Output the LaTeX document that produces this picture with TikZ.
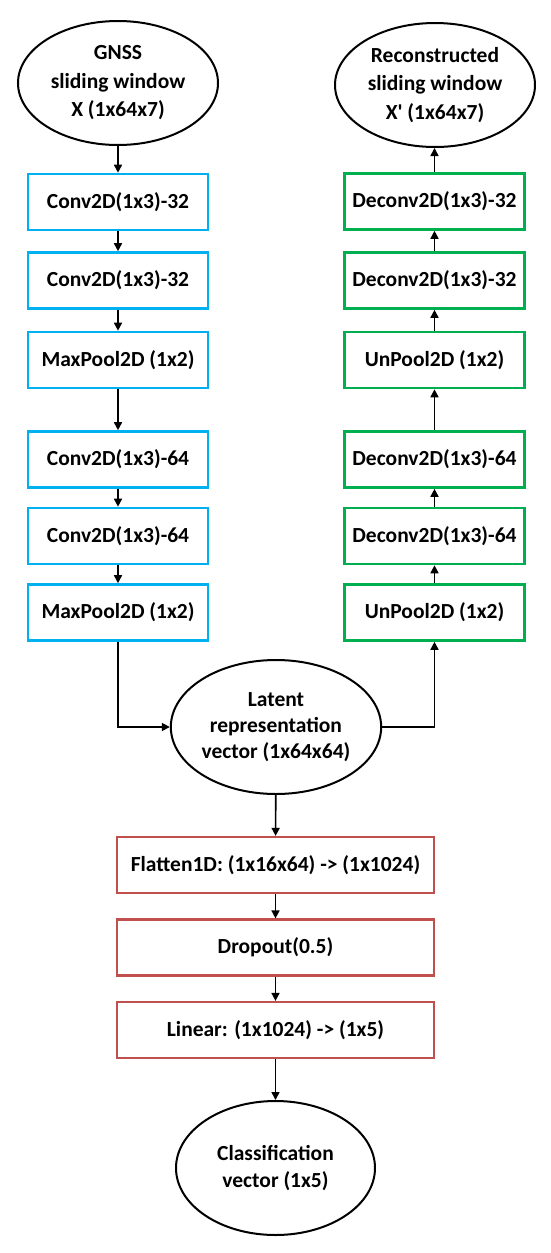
\documentclass[tikz,border=0pt]{standalone}
\usepackage{fontspec}
\setmainfont{Carlito}
\usetikzlibrary{shapes.geometric,arrows.meta}
\definecolor{cblue}{RGB}{0,176,240}
\definecolor{cgreen}{RGB}{0,176,80}
\definecolor{cred}{RGB}{192,80,77}
\begin{document}
\begin{tikzpicture}[x=1pt,y=-1pt,
  every node/.style={font=\fontsize{21.5}{27}\selectfont\bfseries, text=black},
  layerbox/.style={draw, line width=2.6pt, rectangle, minimum width=180pt, minimum height=56pt, inner sep=0pt},
  encbox/.style={layerbox, draw=cblue},
  decbox/.style={layerbox, draw=cgreen},
  clsbox/.style={layerbox, draw=cred, line width=2.2pt, minimum width=317pt},
  blob/.style={draw=black, line width=2pt, ellipse, inner sep=0pt, align=center},
  conn/.style={line width=1.6pt, -{Triangle[length=8pt,width=8pt]}}
]
\useasboundingbox (0,0) rectangle (550,1253);
\fill[white] (0,0) rectangle (550,1253);

% encoder
\node[blob, minimum width=200pt, minimum height=124pt, font=\fontsize{21.5}{28.5}\selectfont\bfseries] (in) at (118,83) {GNSS\\sliding window\\X (1x64x7)};
\node[encbox] (e1) at (118,202) {Conv2D(1x3)-32};
\node[encbox] (e2) at (118,280.5) {Conv2D(1x3)-32};
\node[encbox] (e3) at (118,360) {MaxPool2D (1x2)};
\node[encbox] (e4) at (118,459.5) {Conv2D(1x3)-64};
\node[encbox] (e5) at (118,536) {Conv2D(1x3)-64};
\node[encbox] (e6) at (118,612.5) {MaxPool2D (1x2)};

% decoder
\node[blob, minimum width=200pt, minimum height=124pt, font=\fontsize{21.5}{28.5}\selectfont\bfseries] (out) at (435,85) {Reconstructed\\sliding window\\X\textquotesingle{} (1x64x7)};
\node[decbox] (d1) at (434.5,201.5) {Deconv2D(1x3)-32};
\node[decbox] (d2) at (434.5,280.5) {Deconv2D(1x3)-32};
\node[decbox] (d3) at (434.5,360) {UnPool2D (1x2)};
\node[decbox] (d4) at (434.5,459.5) {Deconv2D(1x3)-64};
\node[decbox] (d5) at (434.5,536) {Deconv2D(1x3)-64};
\node[decbox] (d6) at (434.5,612.5) {UnPool2D (1x2)};

% latent
\node[blob, minimum width=198pt, minimum height=134pt, font=\fontsize{21.5}{26}\selectfont\bfseries] (lat) at (276,727) {Latent\\representation\\vector (1x64x64)};

% classifier
\node[clsbox] (c1) at (275.5,865) {Flatten1D: (1x16x64) -> (1x1024)};
\node[clsbox] (c2) at (275.5,947.5) {Dropout(0.5)};
\node[clsbox] (c3) at (275.5,1030) {Linear: (1x1024) -> (1x5)};
\node[blob, minimum width=199pt, minimum height=134pt] (cls) at (275.5,1168) {Classification\\vector (1x5)};

\coordinate (jl) at (118,727);
\coordinate (jr) at (434.5,727);

\draw[conn] (in) -- (e1);
\draw[conn] (e1) -- (e2);
\draw[conn] (e2) -- (e3);
\draw[conn] (e3) -- (e4);
\draw[conn] (e4) -- (e5);
\draw[conn] (e5) -- (e6);
\draw[conn] (e6.south) -- (jl) -- (lat.west);
\draw[conn] (lat.east) -- (jr) -- (d6.south);
\draw[conn] (d6) -- (d5);
\draw[conn] (d5) -- (d4);
\draw[conn] (d4) -- (d3);
\draw[conn] (d3) -- (d2);
\draw[conn] (d2) -- (d1);
\draw[conn] (d1.north) -- (d1.north |- out.south);
\draw[conn] (lat) -- (c1);
\draw[conn] (c1) -- (c2);
\draw[conn] (c2) -- (c3);
\draw[conn] (c3) -- (cls);
\end{tikzpicture}
\end{document}
